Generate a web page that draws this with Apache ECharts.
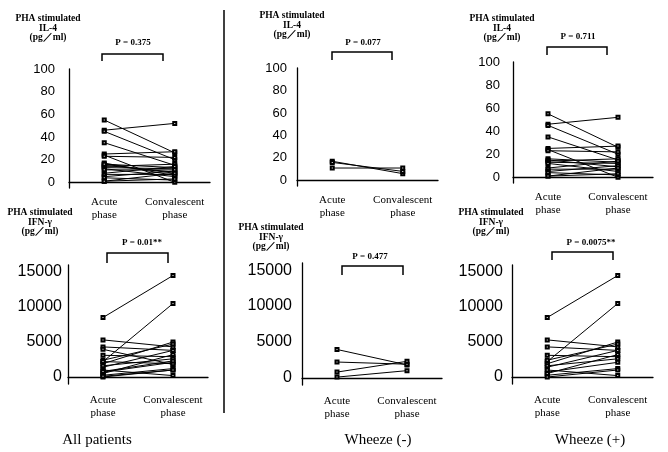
<!DOCTYPE html>
<html>
<head>
<meta charset="utf-8">
<script src="https://cdn.jsdelivr.net/npm/echarts@6/dist/echarts.min.js"></script>
<style>
html, body { margin: 0; padding: 0; background: #fff; }
#chart { width: 668px; height: 452px; }
</style>
</head>
<body>
<div id="chart"></div>
<script>
// x categories
var phases = ['Acute\nphase', 'Convalescent\nphase']

// PHA stimulated IL-4 (pg/ml), one entry per patient
var il4PlusAcute = [55, 46, 45, 35, 25, 24, 23, 16, 15, 14, 13, 12, 8, 7, 5, 4, 1, 1]
var il4PlusConv  = [26, 52, 20, 15, 27, 0, 22, 13, 9, 16, 12, 5, 14, 7, 10, 2, 8, 3]
var il4MinusAcute = [17, 16, 11]
var il4MinusConv  = [6, 8, 11]

// PHA stimulated IFN-γ (pg/ml)
var ifnPlusAcute = [8500, 2200, 5300, 4300, 3100, 1900, 1400, 700, 250, 2400, 1000, 0, 1600, 500]
var ifnPlusConv  = [14500, 10500, 4300, 3800, 2900, 5000, 3800, 2100, 1200, 4700, 200, 1000, 2600, 3200]
var ifnMinusAcute = [3950, 2200, 800, 100]
var ifnMinusConv  = [1800, 1900, 2300, 1000]

// tick labels
var il4Ticks = [0, 20, 40, 60, 80, 100]
var ifnTicks = [0, 5000, 10000, 15000]

var pValues = ['P = 0.375', 'P = 0.077', 'P = 0.711', 'P = 0.01**', 'P = 0.477', 'P = 0.0075**']
var groupNames = ['All patients', 'Wheeze (-)', 'Wheeze (+)']
var il4Title = 'PHA stimulated\nIL-4\n(pg／ml)'
var ifnTitle = 'PHA stimulated\nIFN-γ\n(pg／ml)'

// all patients = wheeze(+) and wheeze(-) together
var il4AllAcute = il4PlusAcute.concat(il4MinusAcute)
var il4AllConv = il4PlusConv.concat(il4MinusConv)
var ifnAllAcute = ifnPlusAcute.concat(ifnMinusAcute)
var ifnAllConv = ifnPlusConv.concat(ifnMinusConv)

var serif = '"Liberation Serif", "Times New Roman", serif'
var sans = '"Liberation Sans", Arial, sans-serif'

var panels = [
  { acute: il4AllAcute, conv: il4AllConv, ticks: il4Ticks, min: -5, max: 100, title: il4Title,
    grid: { left: 69, top: 69, width: 141, height: 119 }, lm: 14, fs: 13,
    tx: 48, ty: 14, px: 133, py: 43, br: [102, 163, 54, 61] },
  { acute: il4MinusAcute, conv: il4MinusConv, ticks: il4Ticks, min: -5, max: 100, title: il4Title,
    grid: { left: 297, top: 68, width: 141, height: 118 }, lm: 10, fs: 13,
    tx: 292, ty: 11, px: 363, py: 43, br: [332, 392, 52, 60] },
  { acute: il4PlusAcute, conv: il4PlusConv, ticks: il4Ticks, min: -5, max: 100, title: il4Title,
    grid: { left: 513, top: 62, width: 140, height: 121 }, lm: 13, fs: 13,
    tx: 502, ty: 14, px: 578, py: 37, br: [547, 607, 47, 55] },
  { acute: ifnAllAcute, conv: ifnAllConv, ticks: ifnTicks, min: -1000, max: 16000, title: ifnTitle,
    grid: { left: 68, top: 265, width: 140, height: 119 }, lm: 6, fs: 16,
    tx: 40, ty: 208, px: 142, py: 243, br: [107, 168, 253, 263] },
  { acute: ifnMinusAcute, conv: ifnMinusConv, ticks: ifnTicks, min: -1000, max: 16000, title: ifnTitle,
    grid: { left: 302, top: 263, width: 140, height: 122 }, lm: 10, fs: 16,
    tx: 271, ty: 223, px: 370, py: 257, br: [342, 403, 266, 275] },
  { acute: ifnPlusAcute, conv: ifnPlusConv, ticks: ifnTicks, min: -1000, max: 16000, title: ifnTitle,
    grid: { left: 512, top: 265, width: 141, height: 119 }, lm: 9, fs: 16,
    tx: 491, ty: 208, px: 591, py: 243, br: [552, 613, 252, 260] }
]

var grids = [], xAxes = [], yAxes = [], series = [], graphics = []

panels.forEach(function (p, i) {
  grids.push(p.grid)
  xAxes.push({
    type: 'category',
    gridIndex: i,
    data: phases,
    boundaryGap: true,
    axisLine: { lineStyle: { color: '#000', width: 1.3 } },
    axisTick: { show: false },
    axisLabel: {
      interval: 0,
      color: '#000',
      fontFamily: serif,
      fontSize: 11,
      lineHeight: 13,
      margin: i < 3 ? 8 : 10
    }
  })
  yAxes.push({
    type: 'value',
    gridIndex: i,
    min: p.min,
    max: p.max,
    splitLine: { show: false },
    axisTick: { show: false },
    axisLine: { show: true, lineStyle: { color: '#000', width: 1.3 } },
    axisLabel: {
      customValues: p.ticks,
      formatter: function (v) { return String(v) },
      color: '#000',
      fontFamily: sans,
      fontSize: p.fs,
      margin: p.lm
    }
  })
  // one line per patient
  for (var j = 0; j < p.acute.length; j++) {
    series.push({
      type: 'line',
      xAxisIndex: i,
      yAxisIndex: i,
      data: [p.acute[j], p.conv[j]],
      symbol: 'emptyRect',
      symbolSize: 3,
      showSymbol: true,
      silent: true,
      lineStyle: { color: '#000', width: 1 },
      itemStyle: { color: '#000', borderColor: '#000', borderWidth: 1 }
    })
  }
  // axis title
  graphics.push({
    type: 'text', x: p.tx, y: p.ty,
    style: { text: p.title, fill: '#000', font: 'bold 9.5px ' + serif, align: 'center', verticalAlign: 'top', lineHeight: 9.5 }
  })
  // p value with bracket
  graphics.push({
    type: 'text', x: p.px, y: p.py,
    style: { text: pValues[i], fill: '#000', font: 'bold 9px ' + serif, align: 'center', verticalAlign: 'middle' }
  })
  graphics.push({
    type: 'polyline',
    shape: { points: [[p.br[0], p.br[3]], [p.br[0], p.br[2]], [p.br[1], p.br[2]], [p.br[1], p.br[3]]] },
    style: { stroke: '#000', lineWidth: 1.5, fill: null }
  })
})

// group names under each column
var groupX = [97, 378, 590]
groupNames.forEach(function (name, k) {
  graphics.push({
    type: 'text', x: groupX[k], y: 440,
    style: { text: name, fill: '#000', font: '15px ' + serif, align: 'center', verticalAlign: 'middle' }
  })
})

// separator between first and second column
graphics.push({
  type: 'line',
  shape: { x1: 224, y1: 10, x2: 224, y2: 413 },
  style: { stroke: '#000', lineWidth: 1.5 }
})

var myChart = echarts.init(document.getElementById('chart'))
myChart.setOption({
  animation: false,
  backgroundColor: '#fff',
  grid: grids,
  xAxis: xAxes,
  yAxis: yAxes,
  series: series,
  graphic: graphics
})
</script>
</body>
</html>
